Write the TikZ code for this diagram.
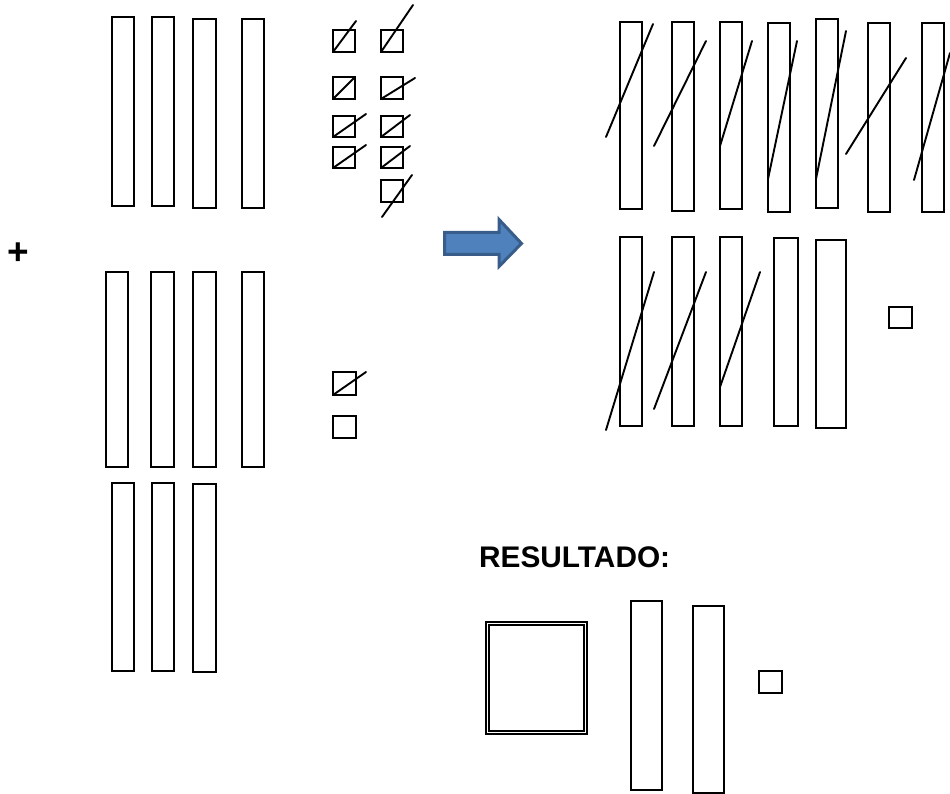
\documentclass[tikz,border=0pt]{standalone}
\usepackage{fontspec}
\setmainfont{Liberation Sans}
\begin{document}
\begin{tikzpicture}[x=1pt,y=-1pt,
    tile/.style={draw,line width=1.9pt},
    cross/.style={line width=1.9pt,line cap=round}]
    \useasboundingbox (0,0) rectangle (950,794);
    % first polynomial
    \draw [tile] (112,17) rectangle (134,206);
    \draw [tile] (152,17) rectangle (174,206);
    \draw [tile] (193,19) rectangle (216,208);
    \draw [tile] (242,19) rectangle (264,208);
    \draw [tile] (333,30) rectangle (355,52);
    \draw [tile] (381,30) rectangle (403,52);
    \draw [tile] (333,77) rectangle (355,99);
    \draw [tile] (381,77) rectangle (403,99);
    \draw [tile] (333,116) rectangle (355,137);
    \draw [tile] (381,116) rectangle (403,137);
    \draw [tile] (333,147) rectangle (355,168);
    \draw [tile] (381,147) rectangle (403,168);
    \draw [tile] (381,180) rectangle (403,202);
    \draw [cross] (333,52)--(356,21);
    \draw [cross] (381,52)--(413,5);
    \draw [cross] (333,99)--(355,77);
    \draw [cross] (381,99)--(415,78);
    \draw [cross] (333,137)--(366,114);
    \draw [cross] (381,137)--(410,115);
    \draw [cross] (333,168)--(366,145);
    \draw [cross] (381,168)--(410,146);
    \draw [cross] (382,217)--(412,175);
    \node (plus) at (18.7,254) {\fontsize{37}{37}\selectfont\bfseries +};
    % second polynomial
    \draw [tile] (106,272) rectangle (128,467);
    \draw [tile] (151,272) rectangle (174,467);
    \draw [tile] (193,272) rectangle (216,467);
    \draw [tile] (242,272) rectangle (264,467);
    \draw [tile] (333,372) rectangle (356,395);
    \draw [tile] (333,416) rectangle (356,438);
    \draw [cross] (333,395)--(366,372);
    \draw [tile] (112,483) rectangle (134,671);
    \draw [tile] (152,483) rectangle (174,671);
    \draw [tile] (193,484) rectangle (216,672);
    % arrow
    \draw [line width=3pt,draw={rgb,255:red,56;green,93;blue,138},
      fill={rgb,255:red,79;green,129;blue,189},line join=miter]
      (444.5,232.5)--(499,232.5)--(499,219.5)--(521.5,243.5)--(499,266.5)--(499,254.5)--(444.5,254.5)--cycle;
    % grouping
    \draw [tile] (620,22) rectangle (642,209);
    \draw [tile] (672,22) rectangle (694,211);
    \draw [tile] (720,22) rectangle (742,209);
    \draw [tile] (768,23) rectangle (790,212);
    \draw [tile] (816,19) rectangle (838,208);
    \draw [tile] (868,23) rectangle (890,212);
    \draw [tile] (922,23) rectangle (944,212);
    \draw [cross] (606,137)--(653,24);
    \draw [cross] (654,146)--(706,41);
    \draw [cross] (720,146)--(752,41);
    \draw [cross] (768,179)--(797,41);
    \draw [cross] (816,179)--(846,31);
    \draw [cross] (846,154)--(906,58);
    \draw [cross] (914,180)--(950,53);
    \draw [tile] (620,237) rectangle (642,426);
    \draw [tile] (672,237) rectangle (694,426);
    \draw [tile] (720,237) rectangle (742,426);
    \draw [tile] (774,238) rectangle (798,426);
    \draw [tile] (816,240) rectangle (846,428);
    \draw [cross] (606,430)--(654,272);
    \draw [cross] (654,409)--(706,272);
    \draw [cross] (720,387)--(760,272);
    \draw [tile] (889,307) rectangle (912,328);
    % result
    \node (result) [anchor=base west,inner sep=0pt] at (479,567)
      {\fontsize{29.8}{30}\selectfont\bfseries RESULTADO:};
    \draw [line width=2pt] (486,622) rectangle (587,734);
    \draw [line width=1.2pt] (489,625) rectangle (584,731);
    \draw [tile] (631,601) rectangle (662,790);
    \draw [tile] (693,606) rectangle (724,793);
    \draw [tile] (759,671) rectangle (782,693);
\end{tikzpicture}
\end{document}
